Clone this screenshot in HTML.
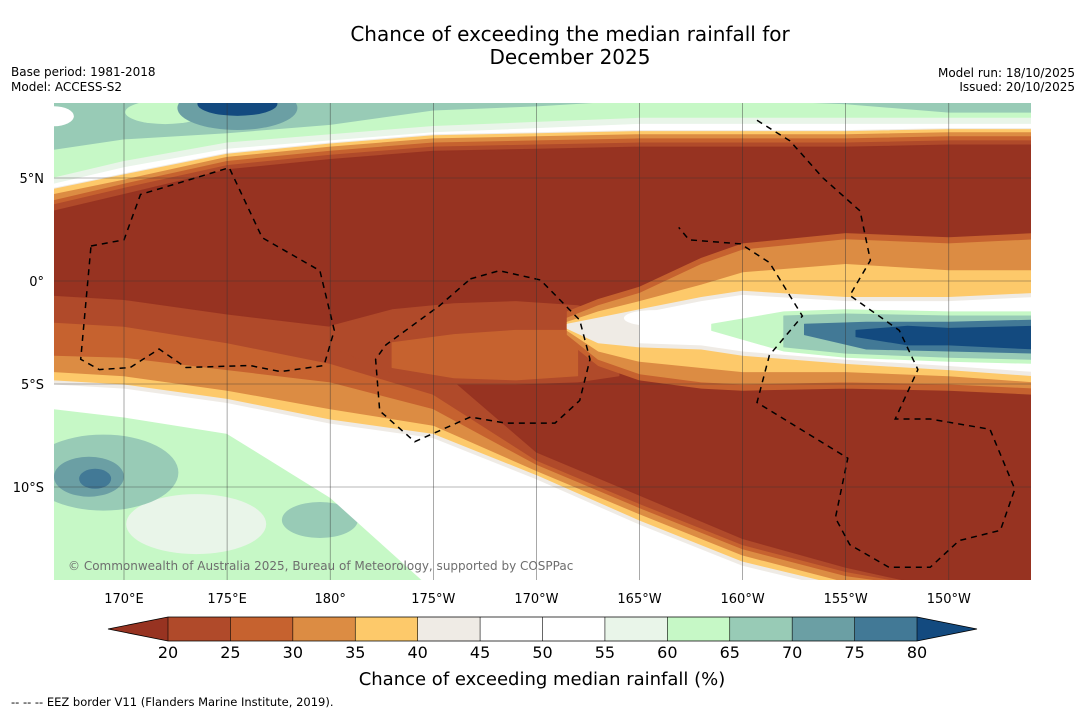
<!DOCTYPE html>
<html><head><meta charset="utf-8"><style>
html,body{margin:0;padding:0;background:#fff;}
svg{display:block;font-family:"DejaVu Sans","Liberation Sans",sans-serif;}
</style></head><body>
<svg id="chart" width="1085" height="713" viewBox="0 0 1085 713" xmlns="http://www.w3.org/2000/svg">
<defs><clipPath id="mapclip"><rect x="54" y="103" width="977" height="477"/></clipPath></defs>
<text x="570" y="41" font-size="20" text-anchor="middle">Chance of exceeding the median rainfall for</text>
<text x="570" y="64" font-size="20" text-anchor="middle">December 2025</text>
<text x="11" y="76" font-size="12">Base period: 1981-2018</text>
<text x="11" y="91" font-size="12">Model: ACCESS-S2</text>
<text x="1075" y="77" font-size="12" text-anchor="end">Model run: 18/10/2025</text>
<text x="1075" y="91" font-size="12" text-anchor="end">Issued: 20/10/2025</text>
<g id="map" clip-path="url(#mapclip)"></g>
<g id="axes"></g>
<g id="cbar"></g>
<text x="542" y="685" font-size="18" text-anchor="middle">Chance of exceeding median rainfall (%)</text>
<text x="11" y="706" font-size="11.5">--  --  -- EEZ border V11 (Flanders Marine Institute, 2019).</text>
</svg>
<script>
// ---- data ----
const lons = [166.6,170,175,180,185,190,195,200,205,210,214.2];
const n20 = [3.4,4.2,5.4,5.9,6.3,6.4,6.5,6.5,6.5,6.6,6.6];
const n25 = [3.7,4.5,5.6,6.1,6.5,6.6,6.7,6.7,6.7,6.8,6.8];
const n30 = [3.9,4.7,5.8,6.3,6.7,6.8,6.9,6.9,6.9,7.0,7.0];
const n35 = [4.2,4.9,6.0,6.5,6.9,7.0,7.1,7.1,7.1,7.2,7.2];
const n40 = [4.5,5.2,6.2,6.7,7.1,7.2,7.3,7.3,7.3,7.4,7.4];
const n55 = [5.0,5.8,6.7,7.1,7.5,7.7,7.9,7.9,7.9,7.9,7.9];
const nTeal = [6.4,6.9,7.2,7.6,8.3,8.5,8.8,8.8,8.6,8.2,8.2];
const s20 = [-0.7,-0.9,-1.6,-2.2,-4.0,-8.3,-10.4,-12.5,-13.9,-15,-15];
const s25 = [-2.0,-2.2,-3.0,-4.0,-5.5,-8.7,-10.8,-12.8,-14.1,-15,-15];
const s30 = [-3.6,-3.7,-4.3,-4.9,-6.2,-8.9,-11.0,-13.0,-14.3,-15,-15];
const s35 = [-4.4,-4.6,-5.3,-6.2,-7.0,-9.2,-11.3,-13.3,-14.6,-15,-15];
const s40 = [-5.0,-5.2,-5.9,-6.9,-7.6,-9.6,-11.8,-13.8,-15,-15,-15];
const s55 = [-6.2,-6.6,-7.4,-10.5,-15,-15,-15,-15,-15,-15,-15];
// middle brown patch (20-25) between north and south red
const midLon = [180,183,186,189,192,194];
const midTop = [-2.2,-1.4,-1.1,-1.0,-1.2,-1.8];
const midBot = [-3.2,-4.5,-5.0,-5.0,-4.9,-4.6];
const midOLon = [183,186,189,192];
const midOTop = [-3.0,-2.6,-2.4,-2.4];
const midOBot = [-4.2,-4.7,-4.8,-4.6];
// tongue on the right (lat bounds)
const tLon = [191.5,193,195,198,200,205,210,214.2];
const tOrTop = [-1.8,-1.2,-0.6,0.8,1.5,2.0,1.8,2.0];
const tOrBot = [-2.6,-3.8,-4.5,-4.9,-5.0,-4.9,-5.0,-5.2];
const tYeTop = [-2.0,-1.5,-1.0,-0.2,0.4,0.8,0.5,0.5];
const tYeBot = [-2.4,-3.4,-3.9,-4.2,-4.4,-4.4,-4.6,-4.9];
const tWhTop = [-2.1,-1.8,-1.4,-0.8,-0.5,-0.8,-0.8,-0.6];
const tWhBot = [-2.3,-3.0,-3.2,-3.3,-3.6,-4.0,-4.3,-4.6];
const gLon = [198.5,202,205,210,214.2];
const gTop = [-2.1,-1.5,-1.4,-1.5,-1.5];
const gBot = [-2.4,-3.4,-3.7,-3.9,-4.0];
const bLon = [203,206,210,214.2];
const bTop = [-2.1,-2.0,-2.0,-1.9];
const bBot = [-2.6,-3.3,-3.4,-3.5];
const bbLon = [205.5,208,210,214.2];
const bbTop = [-2.4,-2.2,-2.3,-2.2];
const bbBot = [-2.7,-3.1,-3.1,-3.3];
// colorbar
const levels = [20,25,30,35,40,45,50,55,60,65,70,75,80];
const colors = ['#b04a2a','#c6622f','#dc8c43','#fdc96a','#efebe5','#ffffff','#ffffff','#e9f5e9','#c6f8c6','#98cbb6','#6b9fa4','#427996'];
const underColor = '#973321', overColor = '#134a7f';
const lonTicks = [170,175,180,185,190,195,200,205,210];
const lonLabels = ['170°E','175°E','180°','175°W','170°W','165°W','160°W','155°W','150°W'];
const latTicks = [5,0,-5,-10];
const latLabels = ['5°N','0°','5°S','10°S'];
// EEZ borders [lon,lat]
const eezWest = [[168.4,1.7],[170.0,2.0],[170.8,4.2],[175.1,5.5],[176.7,2.1],[179.5,0.5],[180.2,-2.4],[179.7,-4.1],[177.6,-4.4],[176.1,-4.1],[173.0,-4.2],[171.7,-3.3],[170.3,-4.2],[168.8,-4.3],[167.9,-3.8],[168.4,1.7]];
const eezMid = [[186.8,0.1],[188.2,0.5],[190.2,0.05],[192.1,-1.9],[192.6,-3.8],[192.1,-5.8],[190.9,-6.9],[188.5,-6.9],[186.8,-6.6],[184.1,-7.8],[182.4,-6.3],[182.2,-3.8],[182.7,-3.1],[185.3,-1.2],[186.8,0.1]];
const eezEast = [[200.7,7.8],[202.3,6.8],[203.9,5.0],[205.7,3.4],[206.2,1.0],[205.2,-0.7],[207.6,-2.4],[208.5,-4.3],[207.4,-6.7],[209.1,-6.7],[212.0,-7.2],[213.2,-10.1],[212.5,-12.1],[210.5,-12.6],[209.1,-13.9],[207.1,-13.9],[205.2,-12.8],[204.5,-11.5],[205.1,-8.6],[200.7,-5.9],[201.3,-3.6],[202.9,-1.7],[201.3,0.9],[199.9,1.8],[197.4,2.0],[196.9,2.6]];

// ---- scales ----
const X = lon => 124 + (lon-170)*20.62;
const Y = lat => 281 - lat*20.6;
const CX = v => 168 + (v-20)*(749/60);
const NS='http://www.w3.org/2000/svg';
const map=document.getElementById('map'), axes=document.getElementById('axes'), cbar=document.getElementById('cbar');
function mk(tag,attrs,parent){const e=document.createElementNS(NS,tag);for(const k in attrs)e.setAttribute(k,attrs[k]);parent.appendChild(e);return e;}
function band(ls,top,bot,color,name){
  let pts=ls.map((l,i)=>X(l).toFixed(1)+','+Y(top[i]).toFixed(1));
  for(let i=ls.length-1;i>=0;i--)pts.push(X(ls[i]).toFixed(1)+','+Y(bot[i]).toFixed(1));
  const p=mk('polygon',{points:pts.join(' '),fill:color,stroke:color,'stroke-width':1,'stroke-linejoin':'round'},map);
  
  
}
function blob(lon,lat,rx,ry,color,name){
  const e=mk('ellipse',{cx:X(lon),cy:Y(lat),rx:rx,ry:ry,fill:color},map);
  
  
}
const bg=mk('rect',{x:54,y:103,width:977,height:477,fill:'#c6f8c6'},map);


const top9=lons.map(()=>9);
band(lons,top9,nTeal,'#98cbb6','north-teal-band');
blob(172,8.2,40,12,'#c6f8c6','north-green-patch');
blob(166.6,8.0,20,10,'#ffffff','north-white-patch');
// south-west patches
blob(173.5,-11.8,70,30,'#e9f5e9','southwest-pale-patch');
blob(169,-9.3,75,38,'#98cbb6','southwest-teal-patch');
blob(168.3,-9.5,35,20,'#6b9fa4','southwest-dark-patch');
blob(168.6,-9.6,16,10,'#427996','southwest-blue-patch');
blob(179.5,-11.6,38,18,'#98cbb6','south-teal-patch');
blob(175.5,8.4,60,22,'#6b9fa4','north-dark-patch');
blob(175.5,8.6,40,12,'#134a7f','north-blue-patch');
band(lons,n55,s40.map((v,i)=>v-0.4),'#e9f5e9','pale-band');
band(lons,n55.map(v=>v-0.3),s55,'#ffffff','white-band');
band(lons,n40,s40,'#efebe5','band-40-45');
band(lons,n40.map(v=>v-0.05),s40.map(v=>v+0.2),'#fdc96a','band-35-40');
band(lons,n35,s35,'#dc8c43','band-30-35');
band(lons,n30,s30,'#c6622f','band-25-30');
band(lons,n25,s25,'#b04a2a','band-20-25');
band(lons,n20,s20,'#973321','band-below-20');
band(midLon,midTop,midBot,'#b04a2a','middle-brown-patch');
band(midOLon,midOTop,midOBot,'#c6622f','middle-orange-patch');
band(tLon,tOrTop.map(v=>v+0.3),tOrBot.map(v=>v-0.3),'#c6622f','tongue-25-30');
band(tLon,tOrTop,tOrBot,'#dc8c43','tongue-30-35');
band(tLon,tYeTop,tYeBot,'#fdc96a','tongue-35-40');
band(tLon,tWhTop,tWhBot,'#efebe5','tongue-40-45');
band(tLon.slice(2),tWhTop.slice(2).map(v=>v-0.2),tWhBot.slice(2).map(v=>v+0.2),'#ffffff','tongue-white');
band(gLon,gTop,gBot,'#c6f8c6','tongue-green');
band(gLon.slice(1),gTop.slice(1).map(v=>v-0.2),gBot.slice(1).map(v=>v+0.2),'#98cbb6','tongue-teal');
band(bLon,bTop,bBot,'#427996','tongue-dark-blue');
band(bbLon,bbTop,bbBot,'#134a7f','tongue-blue');
blob(195.7,-1.8,30,8,'#ffffff','tongue-white-blob');
// EEZ
[eezWest,eezMid,eezEast].forEach(arr=>{
  const p=mk('polyline',{points:arr.map(d=>X(d[0]).toFixed(1)+','+Y(d[1]).toFixed(1)).join(' '),fill:'none',stroke:'#000','stroke-width':1.5,'stroke-dasharray':'6,5'},map);
  
  
});
// grid
lonTicks.forEach((l,i)=>{
  const g=mk('line',{x1:X(l),x2:X(l),y1:103,y2:580,stroke:'#333','stroke-width':0.6,'stroke-opacity':0.7},map);
  
  
  const t=mk('text',{x:X(l),y:603,'font-size':13,'text-anchor':'middle'},axes);
  t.textContent=lonLabels[i];
  
  
});
latTicks.forEach((l,i)=>{
  const g=mk('line',{x1:54,x2:1031,y1:Y(l),y2:Y(l),stroke:'#333','stroke-width':0.6,'stroke-opacity':0.7},map);
  
  
  const t=mk('text',{x:44,y:Y(l)+5,'font-size':13,'text-anchor':'end'},axes);
  t.textContent=latLabels[i];
  
  
});
const cp=mk('text',{x:68,y:570,'font-size':12,fill:'#6e6e6e'},map);
cp.textContent='© Commonwealth of Australia 2025, Bureau of Meteorology, supported by COSPPac';


// colorbar
colors.forEach((c,i)=>{
  const r=mk('rect',{x:CX(levels[i]),y:617,width:CX(levels[i+1])-CX(levels[i]),height:24,fill:c},cbar);
  
  
});
const lt=mk('polygon',{points:`${CX(20)},617 ${CX(20)},641 ${CX(20)-60},629`,fill:underColor},cbar);


const rt=mk('polygon',{points:`${CX(80)},617 ${CX(80)},641 ${CX(80)+60},629`,fill:overColor},cbar);


const ol=mk('polygon',{points:`${CX(20)-60},629 ${CX(20)},617 ${CX(80)},617 ${CX(80)+60},629 ${CX(80)},641 ${CX(20)},641`,fill:'none',stroke:'#000','stroke-width':0.8},cbar);


levels.forEach(v=>{
  const d=mk('line',{x1:CX(v),x2:CX(v),y1:617,y2:641,stroke:'#000','stroke-width':0.6},cbar);
  
  
  const t=mk('text',{x:CX(v),y:658,'font-size':16,'text-anchor':'middle'},cbar);
  t.textContent=v;
  
  
});
</script>
</body></html>
